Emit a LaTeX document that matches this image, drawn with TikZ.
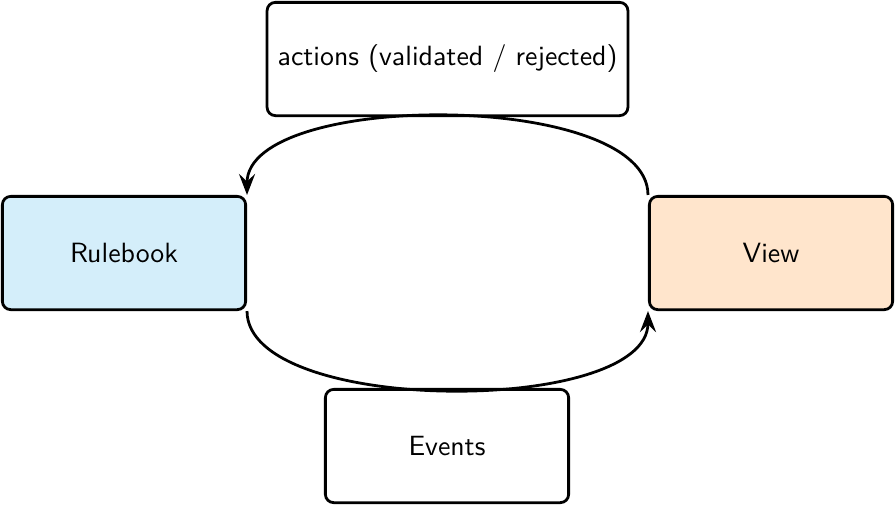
\documentclass[tikz,border=0pt]{standalone}
\usetikzlibrary{arrows.meta}
\definecolor{rulefill}{RGB}{212,238,250}
\definecolor{viewfill}{RGB}{255,229,204}
\begin{document}
\begin{tikzpicture}[x=0.3593pt,y=-0.3593pt,
  font=\sffamily,
  box/.style={draw,line width=1pt,rounded corners=3pt,minimum width=87.4pt,minimum height=40.7pt,inner xsep=3.8pt,align=center},
  conn/.style={line width=1pt,-{Stealth[length=7.6pt,width=5.8pt,inset=2.8pt]}}]
\useasboundingbox (0,0) rectangle (895,506);
\node[box,fill=rulefill] (rule) at (124,253) {Rulebook};
\node[box,fill=viewfill] (view) at (771,253) {View};
\node[box] (act) at (447.5,59) {actions (validated / rejected)};
\node[box] (ev) at (447,446) {Events};
\draw[conn] (view.north west) to[out=90,in=90,looseness=0.67] (rule.north east);
\draw[conn] (rule.south east) to[out=-90,in=-90,looseness=0.67] (view.south west);
\end{tikzpicture}
\end{document}
